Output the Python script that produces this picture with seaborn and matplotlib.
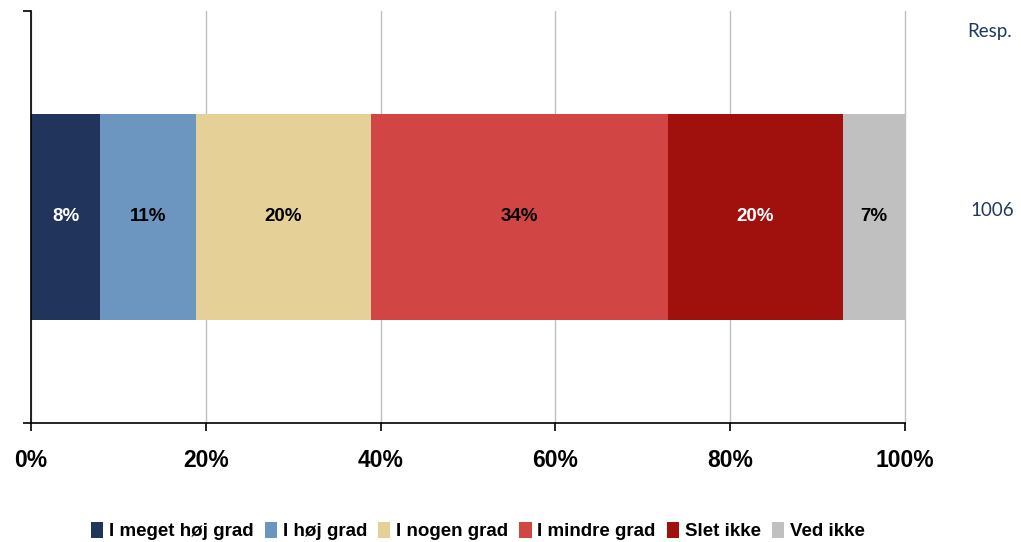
import numpy as np
import pandas as pd
import matplotlib.pyplot as plt
import seaborn as sns
from matplotlib.patches import Patch

categories = ['I meget høj grad', 'I høj grad', 'I nogen grad', 'I mindre grad', 'Slet ikke', 'Ved ikke']
values = [7.9, 11.0, 20.0, 34.0, 20.0, 7.1]
labels = ['8%', '11%', '20%', '34%', '20%', '7%']
colors = ['#20345C', '#6C96C0', '#E5D198', '#D24545', '#A0100D', '#C0C0C0']
label_colors = ['white', 'black', 'black', 'black', 'white', 'black']
resp = '1006'
x_ticks = [0, 20, 40, 60, 80, 100]

sns.set_theme(style="white")
plt.rcParams['font.family'] = ['Liberation Sans', 'DejaVu Sans']
plt.rcParams['text.color'] = 'black'
plt.rcParams['xtick.color'] = 'black'
plt.rcParams['ytick.color'] = 'black'

df = pd.DataFrame({'Category': categories, 'Value': values})
df['Cum'] = df['Value'].cumsum()
df['Start'] = df['Cum'] - df['Value']
df['Row'] = resp

fig = plt.figure(figsize=(10.21, 5.42), dpi=100)
ax = fig.add_axes([0.0304, 0.2196, 0.8560, 0.7601])

# stacked bar: draw cumulative totals from the largest down
for i in reversed(range(len(df))):
    sns.barplot(data=df.iloc[[i]], x='Cum', y='Row', orient='h', color=colors[i],
                saturation=1, width=1.0, errorbar=None, ax=ax, linewidth=0)

for i, row in df.iterrows():
    ax.text(row['Start'] + row['Value'] / 2, 0, labels[i], ha='center', va='center',
            fontsize=13.5, fontweight='bold', color=label_colors[i])

ax.set_xlim(0, 100)
ax.set_ylim(1, -1)
ax.set_xticks(x_ticks)
ax.set_xticklabels([f'{t}%' for t in x_ticks], fontsize=16.5, fontweight='bold')
ax.set_yticks([-1, 1])
ax.set_yticklabels(['', ''])
ax.set_xlabel('')
ax.set_ylabel('')
ax.tick_params(axis='x', direction='out', length=6, width=1.2, color='black', labelcolor='black', pad=13, bottom=True)
ax.tick_params(axis='y', direction='out', length=6, width=1.2, color='black', left=True)

ax.grid(axis='x', color='#C0C0C0', linewidth=1)
ax.grid(axis='y', visible=False)
ax.set_axisbelow(True)
for line in ax.get_xgridlines():
    line.set_clip_on(False)
for s in ['top', 'right']:
    ax.spines[s].set_visible(False)
for s in ['left', 'bottom']:
    ax.spines[s].set_color('black')
    ax.spines[s].set_linewidth(1.2)

handles = [Patch(facecolor=c, edgecolor='none') for c in colors]
fig.legend(handles, categories, loc='center', bbox_to_anchor=(0.468, 0.02), ncol=6,
           frameon=False, prop={'weight': 'bold', 'size': 13.5}, labelcolor='black',
           handlelength=0.65, handleheight=0.9, handletextpad=0.3, columnspacing=0.6)

fig.text(0.947, 0.941, 'Resp.', fontsize=13.5, color='#1F3864', ha='left', va='center', family=['Lato', 'DejaVu Sans'])
fig.text(0.950, 0.611, resp, fontsize=13.5, color='#1F3864', ha='left', va='center', family=['Lato', 'DejaVu Sans'])

fig.savefig('out.png', dpi=100)
